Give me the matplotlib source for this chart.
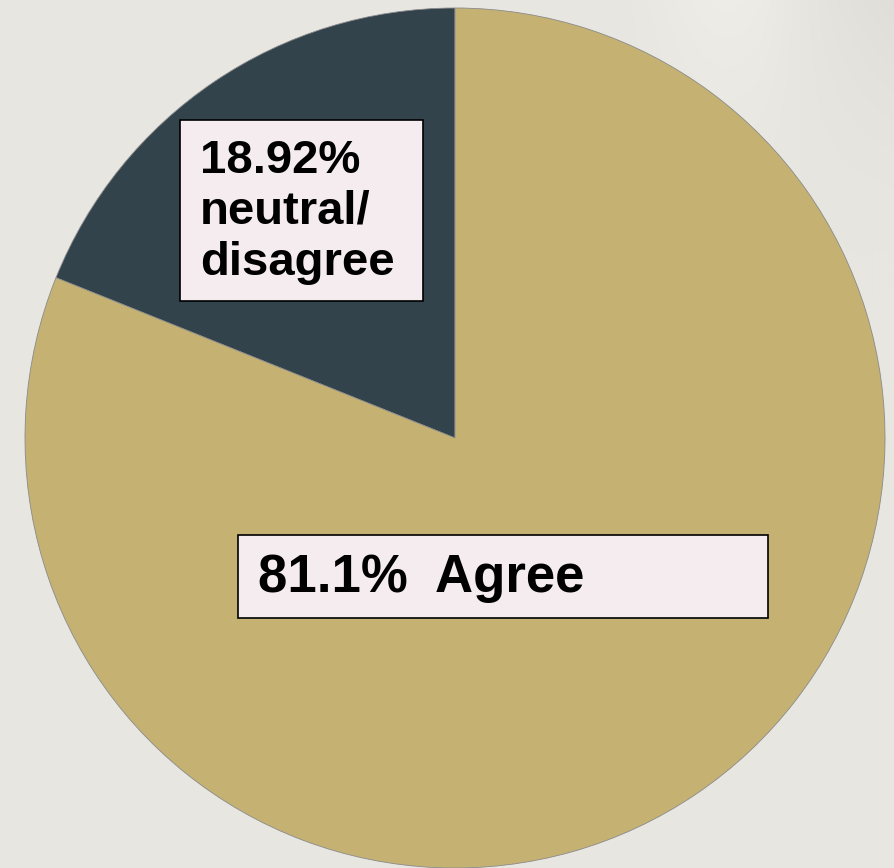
import numpy as np
import matplotlib
matplotlib.use("Agg")
import matplotlib.pyplot as plt
from matplotlib.patches import Rectangle

# data
labels = ["neutral/\ndisagree", "Agree"]
shares = [18.92, 81.08]
label_texts = ["18.92%\nneutral/\ndisagree", "81.1%  Agree"]
colors = ["#32434C", "#C5B273"]

W, H = 895, 868
BG = "#E8E6E1"

fig = plt.figure(figsize=(W / 100, H / 100), dpi=100, facecolor=BG)
ax = fig.add_axes([0, 0, 1, 1])
ax.set_facecolor(BG)

# subtle light/dark band in the top right corner of the backdrop
xs = np.linspace(0, 1, 300)
ys = np.linspace(0, 1, 200)
gx = np.exp(-((xs - 0.5) / 0.22) ** 2) * 0.5 - np.clip((xs - 0.6) * 2.0, 0, 1) * 0.8
gx *= np.clip(xs * 4, 0, 1)
gy = np.clip(1 - ys * 1.2, 0, 1) ** 1.5
shade = np.outer(gy, gx)
img = np.zeros((200, 300, 4))
base = np.array(matplotlib.colors.to_rgb(BG))
for k in range(3):
    img[..., k] = np.clip(base[k] + shade * 0.05, 0, 1)
img[..., 3] = 1
ax.imshow(img, extent=(560, W, H - 300, H), origin="upper", zorder=0, aspect="auto")

cx, cy, r = 455, H - 438, 430
ax.pie(shares, colors=colors, startangle=90, counterclock=True,
       center=(cx, cy), radius=r, frame=True,
       wedgeprops=dict(edgecolor="#8a8a8a", linewidth=0.6))
ax.set_xlim(0, W)
ax.set_ylim(0, H)
ax.set_aspect("equal")
ax.axis("off")

# label boxes (pixel coords from top-left)
boxes = [(180, 120, 423, 301), (238, 535, 768, 618)]
text_pos = [(200, 139), (258, 553)]
sizes = [34, 38]
for (x0, y0, x1, y1), (tx, ty), txt, fs in zip(boxes, text_pos, label_texts, sizes):
    ax.add_patch(Rectangle((x0, H - y1), x1 - x0, y1 - y0, facecolor="#F4ECEF",
                           edgecolor="black", linewidth=1.2, zorder=5))
    ax.text(tx, H - ty, txt, fontsize=fs, fontweight="bold", family="Liberation Sans",
            ha="left", va="top", linespacing=1.2, zorder=6)

fig.savefig("out.png", dpi=100, facecolor=BG)
